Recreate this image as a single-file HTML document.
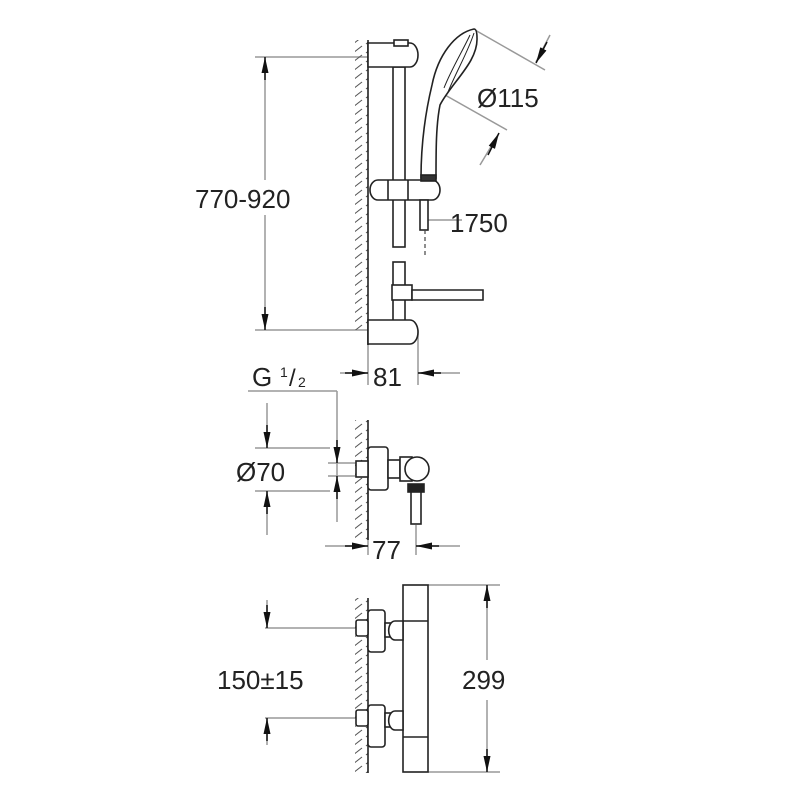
<!DOCTYPE html>
<html><head><style>
html,body{margin:0;padding:0;background:#fff;}
svg{display:block;}
text{font-family:"Liberation Sans",Arial,sans-serif;fill:#222;}
</style></head><body>
<svg width="800" height="800" viewBox="0 0 800 800" xmlns="http://www.w3.org/2000/svg">
<defs>
<pattern id="h" width="13" height="9" patternUnits="userSpaceOnUse">
<line x1="2" y1="8" x2="11" y2="1" stroke="#555" stroke-width="1.1"/>
</pattern>
<marker id="a" viewBox="0 0 16 7" refX="16" refY="3.5" markerWidth="16" markerHeight="7" orient="auto" markerUnits="userSpaceOnUse">
<path d="M0,0 L16,3.5 L0,7 z" fill="#111"/>
</marker>
</defs>
<g fill="none" stroke="#999" stroke-width="1.5">
<line x1="255" y1="57" x2="368" y2="57"/>
<line x1="255" y1="330" x2="368" y2="330"/>
<line x1="265" y1="57" x2="265" y2="180"/>
<line x1="265" y1="215" x2="265" y2="330"/>
<line x1="368" y1="330" x2="368" y2="385"/>
<line x1="418" y1="330" x2="418" y2="385"/>
<line x1="340" y1="373" x2="368" y2="373"/>
<line x1="418" y1="373" x2="460" y2="373"/>
<line x1="475" y1="30" x2="545" y2="70"/>
<line x1="445" y1="95" x2="507" y2="130"/>
<line x1="550" y1="35" x2="536" y2="62"/>
<line x1="480" y1="165" x2="498" y2="135"/>
<line x1="428" y1="220" x2="462" y2="220"/>
<line x1="248" y1="391" x2="337" y2="391"/>
<line x1="337" y1="391" x2="337" y2="522"/>
<line x1="255" y1="448" x2="330" y2="448"/>
<line x1="255" y1="491" x2="330" y2="491"/>
<line x1="328" y1="463" x2="356" y2="463"/>
<line x1="328" y1="476" x2="356" y2="476"/>
<line x1="267" y1="403" x2="267" y2="448"/>
<line x1="267" y1="491" x2="267" y2="535"/>
<line x1="368" y1="490" x2="368" y2="555"/>
<line x1="416" y1="525" x2="416" y2="555"/>
<line x1="325" y1="546" x2="368" y2="546"/>
<line x1="416" y1="546" x2="460" y2="546"/>
<line x1="265" y1="628" x2="356" y2="628"/>
<line x1="265" y1="718" x2="356" y2="718"/>
<line x1="267" y1="600" x2="267" y2="628"/>
<line x1="267" y1="718" x2="267" y2="745"/>
<line x1="428" y1="585" x2="500" y2="585"/>
<line x1="428" y1="772" x2="500" y2="772"/>
<line x1="487" y1="585" x2="487" y2="660"/>
<line x1="487" y1="700" x2="487" y2="772"/>
</g>
<g stroke="#111" stroke-width="1.5" fill="none">
<line x1="265" y1="80" x2="265" y2="57" marker-end="url(#a)"/>
<line x1="265" y1="307" x2="265" y2="330" marker-end="url(#a)"/>
<line x1="345" y1="373" x2="368" y2="373" marker-end="url(#a)"/>
<line x1="441" y1="373" x2="418" y2="373" marker-end="url(#a)"/>
<line x1="547" y1="42" x2="536" y2="63" marker-end="url(#a)"/>
<line x1="488" y1="155" x2="499" y2="133" marker-end="url(#a)"/>
<line x1="267" y1="425" x2="267" y2="448" marker-end="url(#a)"/>
<line x1="267" y1="514" x2="267" y2="491" marker-end="url(#a)"/>
<line x1="337" y1="440" x2="337" y2="463" marker-end="url(#a)"/>
<line x1="337" y1="499" x2="337" y2="476" marker-end="url(#a)"/>
<line x1="345" y1="546" x2="368" y2="546" marker-end="url(#a)"/>
<line x1="439" y1="546" x2="416" y2="546" marker-end="url(#a)"/>
<line x1="267" y1="605" x2="267" y2="628" marker-end="url(#a)"/>
<line x1="267" y1="741" x2="267" y2="718" marker-end="url(#a)"/>
<line x1="487" y1="608" x2="487" y2="585" marker-end="url(#a)"/>
<line x1="487" y1="749" x2="487" y2="772" marker-end="url(#a)"/>
</g>
<rect x="355" y="40" width="13" height="290" fill="url(#h)"/>
<rect x="355" y="420" width="13" height="120" fill="url(#h)"/>
<rect x="355" y="598" width="13" height="175" fill="url(#h)"/>
<g stroke="#222" stroke-width="1.6" fill="#fff">
<line x1="368" y1="40" x2="368" y2="345"/>
<line x1="368" y1="420" x2="368" y2="540"/>
<line x1="368" y1="598" x2="368" y2="773"/>
<rect x="393" y="67" width="12" height="180"/>
<rect x="393" y="262" width="12" height="60"/>
<path d="M368,43 H410 A8,12 0 0 1 410,67 H368 Z"/>
<rect x="394" y="40" width="14" height="6"/>
<path d="M368,320 H410 A8,12 0 0 1 410,344 H368 Z"/>
<path d="M378,180 H432 A8,10 0 0 1 432,200 H378 A8,10 0 0 1 378,180 Z"/>
<line x1="388" y1="180" x2="388" y2="200"/>
<line x1="408" y1="180" x2="408" y2="200"/>
<rect x="420" y="200" width="8" height="30"/>
<rect x="392" y="285" width="20" height="15"/>
<path d="M412,290 H483 V300 H412 Z"/>
<path d="M474,29 C455,33 438,55 432,85 C426,110 421,140 421,178 L436,178 C436,150 436,125 440,105 C452,82 478,62 477,38 C477,32 476,29 474,29 Z"/>
<path d="M474,33 C468,52 456,72 448,92" fill="none" stroke-width="1"/>
<path d="M470,35 C462,52 451,70 444,88" fill="none" stroke-width="1"/>
<rect x="421" y="175" width="15" height="6" fill="#333"/>
<rect x="368" y="447" width="20" height="43" rx="3"/>
<rect x="356" y="461" width="12" height="16"/>
<rect x="388" y="460" width="12" height="18"/>
<rect x="400" y="457" width="12" height="24"/>
<circle cx="417" cy="469" r="12"/>
<rect x="408" y="484" width="16" height="8" fill="#222"/>
<rect x="411" y="492" width="10" height="32"/>
<rect x="403" y="585" width="25" height="187"/>
<line x1="403" y1="621" x2="428" y2="621"/>
<line x1="403" y1="737" x2="428" y2="737"/>
<rect x="368" y="610" width="17" height="42" rx="3"/>
<rect x="368" y="705" width="17" height="42" rx="3"/>
<rect x="356" y="620" width="12" height="16" rx="2"/>
<rect x="356" y="710" width="12" height="16" rx="2"/>
<rect x="385" y="623" width="10" height="14"/>
<rect x="385" y="713" width="10" height="14"/>
<path d="M395,621 H403 V640 H395 A6,9 0 0 1 395,621 Z"/>
<path d="M395,711 H403 V730 H395 A6,9 0 0 1 395,711 Z"/>
</g>
<line x1="425" y1="230" x2="425" y2="255" stroke="#444" stroke-width="1.2" stroke-dasharray="4,3"/>
<g font-size="26">
<text x="195" y="208">770-920</text>
<text x="477" y="107">Ø115</text>
<text x="450" y="232">1750</text>
<text x="373" y="386">81</text>
<text x="252" y="386">G</text>
<text x="236" y="481">Ø70</text>
<text x="372" y="559">77</text>
<text x="217" y="689">150±15</text>
<text x="462" y="689">299</text>
</g>
<text x="280" y="377" font-size="14">1</text>
<text x="289" y="386" font-size="24">/</text>
<text x="298" y="387" font-size="14">2</text>
</svg>
</body></html>
